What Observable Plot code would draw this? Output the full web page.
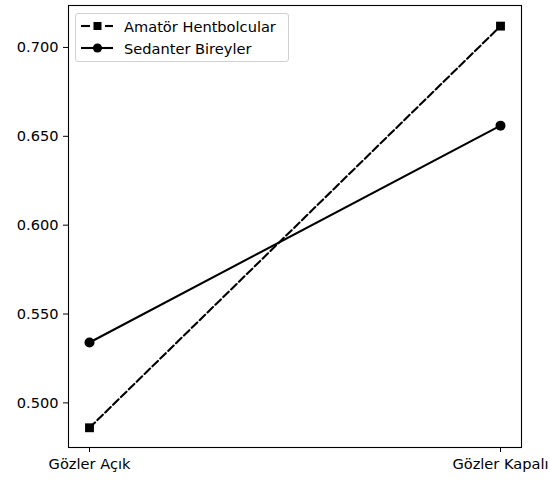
<!DOCTYPE html>
<html><head><meta charset="utf-8">
<script src="https://cdn.jsdelivr.net/npm/d3@7"></script>
<script src="https://cdn.jsdelivr.net/npm/@observablehq/plot@0.6"></script>
<style>
body{margin:0;background:#fff;font-family:"DejaVu Sans",sans-serif;}
#wrap{position:relative;width:549px;height:480px;}
#legend{position:absolute;left:75px;top:13px;width:212px;height:47px;border:1px solid #d0d0d0;border-radius:3px;background:rgba(255,255,255,0.8);font-size:14.6px;color:#000;}
.row{position:absolute;left:0;height:20px;display:flex;align-items:center;}
.row svg{margin-left:4px;}
.row span{margin-left:10px;}
</style></head>
<body><div id="wrap"></div>
<script>
const conditions = ["Gözler Açık", "Gözler Kapalı"];
const amatorValues = [0.486, 0.712];
const sedanterValues = [0.534, 0.656];
const seriesNames = ["Amatör Hentbolcular", "Sedanter Bireyler"];
const yTicks = [0.500, 0.550, 0.600, 0.650, 0.700];

const amator = conditions.map((c, i) => ({cond: c, v: amatorValues[i]}));
const sedanter = conditions.map((c, i) => ({cond: c, v: sedanterValues[i]}));

const chart = Plot.plot({
  width: 549, height: 480,
  marginLeft: 68, marginRight: 28, marginTop: 5, marginBottom: 33,
  style: {fontFamily: "DejaVu Sans, sans-serif", fontSize: "14.6px", color: "#000", background: "#fff"},
  x: {type: "point", domain: conditions, padding: 0.05, align: 0.5, label: null, tickSize: 5, tickPadding: 6},
  y: {domain: [0.4749, 0.7236], ticks: yTicks, tickFormat: d3.format(".3f"), label: null, tickSize: 5, tickPadding: 5},
  marks: [
    Plot.frame({stroke: "#000", strokeWidth: 1.1}),
    Plot.line(amator, {x: "cond", y: "v", stroke: "#000", strokeWidth: 2.1, strokeDasharray: "7.7,3.3"}),
    Plot.dot(amator, {x: "cond", y: "v", symbol: "square", r: 5, fill: "#000", stroke: "none"}),
    Plot.line(sedanter, {x: "cond", y: "v", stroke: "#000", strokeWidth: 2.1}),
    Plot.dot(sedanter, {x: "cond", y: "v", symbol: "circle", r: 5, fill: "#000", stroke: "none"})
  ]
});
const wrap = document.getElementById("wrap");
wrap.appendChild(chart);

const legend = document.createElement("div");
legend.id = "legend";
legend.innerHTML = `
<div class="row" style="top:2px"><svg width="34" height="14"><line x1="1" y1="7" x2="10" y2="7" stroke="#000" stroke-width="2.1"/><line x1="25" y1="7" x2="33" y2="7" stroke="#000" stroke-width="2.1"/><rect x="13.5" y="3" width="8" height="8" fill="#000"/></svg><span>${seriesNames[0]}</span></div>
<div class="row" style="top:24px"><svg width="34" height="14"><line x1="1" y1="7" x2="33" y2="7" stroke="#000" stroke-width="2.1"/><circle cx="17.5" cy="7" r="4.6" fill="#000"/></svg><span>${seriesNames[1]}</span></div>`;
wrap.appendChild(legend);
</script>
</body></html>
